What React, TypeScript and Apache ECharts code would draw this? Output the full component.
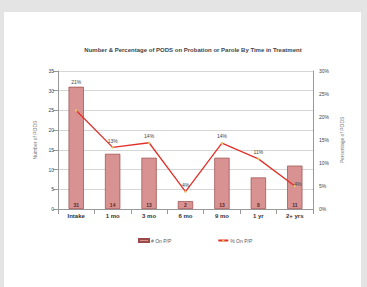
import React, { useEffect, useRef } from "react";
import * as echarts from "echarts";

const categories = ["Intake", "1 mo", "3 mo", "6 mo", "9 mo", "1 yr", "2+ yrs"];
const counts = [31, 14, 13, 2, 13, 8, 11];
const percents = [21.4, 13.4, 14.4, 3.8, 14.3, 10.9, 5.0];
const percentLabels = ["21%", "13%", "14%", "4%", "14%", "11%", "4%"];

export default function App() {
  const ref = useRef<HTMLDivElement>(null);
  useEffect(() => {
    if (!ref.current) return;
    const chart = echarts.init(ref.current, undefined, { renderer: "svg" });
    const lineData = percents.map((v, i) => {
      if (i === 0) return { value: v, label: { offset: [0, -22] } };
      if (i === percents.length - 1) return { value: v, label: { position: "inside", offset: [3, -2] } };
      return v;
    });
    chart.setOption({
      animation: false,
      backgroundColor: "#ffffff",
      textStyle: { fontFamily: "Liberation Sans, Arial, sans-serif" },
      title: {
        text: "Number & Percentage of PODS on Probation or Parole By Time in Treatment",
        left: 184,
        textAlign: "center",
        top: 30,
        textStyle: { fontSize: 6, fontWeight: "bold", color: "#444" },
      },
      legend: {
        top: 221,
        left: 129,
        itemGap: 46,
        itemWidth: 10,
        itemHeight: 3,
        textStyle: { fontSize: 5, color: "#555", padding: [0, 0, 0, -3] },
        data: [
          { name: "# On P/P", icon: "rect" },
          { name: "% On P/P" },
        ],
      },
      grid: { left: 54, right: 48, top: 59, bottom: 78, containLabel: false },
      xAxis: {
        type: "category",
        data: categories,
        axisLine: { lineStyle: { color: "#999" } },
        axisTick: { show: true, lineStyle: { color: "#999" } },
        axisLabel: { fontSize: 6, fontWeight: "bold", color: "#333", margin: 4 },
      },
      yAxis: [
        {
          type: "value",
          min: 0,
          max: 35,
          interval: 5,
          name: "Number of PODS",
          nameLocation: "middle",
          nameGap: 18,
          nameTextStyle: { fontSize: 5, color: "#777" },
          axisLine: { show: true, lineStyle: { color: "#999" } },
          axisTick: { show: true, lineStyle: { color: "#999" } },
          axisLabel: { fontSize: 5, color: "#444", margin: 4 },
          splitLine: { lineStyle: { color: "#bbb", width: 0.6 } },
        },
        {
          type: "value",
          min: 0,
          max: 30,
          interval: 5,
          name: "Percentage of PODS",
          nameLocation: "middle",
          nameGap: 20,
          nameRotate: 90,
          nameTextStyle: { fontSize: 5, color: "#777" },
          axisLine: { show: true, lineStyle: { color: "#999" } },
          axisTick: { show: false },
          axisLabel: { fontSize: 5, color: "#444", margin: 6, formatter: "{value}%" },
          splitLine: { show: false },
        },
      ],
      series: [
        {
          name: "# On P/P",
          type: "bar",
          data: counts,
          barWidth: "42%",
          itemStyle: { color: "#d89292", borderColor: "#9a4a4a", borderWidth: 0.7 },
          label: {
            show: true,
            position: "insideBottom",
            distance: 2,
            fontSize: 5,
            fontWeight: "bold",
            color: "#5a2a2a",
          },
        },
        {
          name: "% On P/P",
          type: "line",
          yAxisIndex: 1,
          data: lineData,
          symbol: "circle",
          symbolSize: 2.5,
          lineStyle: { color: "#e2302a", width: 1.3 },
          itemStyle: { color: "#e8c060" },
          label: {
            show: true,
            position: "top",
            distance: 3,
            fontSize: 5,
            color: "#444",
            formatter: (p: any) => percentLabels[p.dataIndex],
          },
        },
      ],
    });
    return () => chart.dispose();
  }, []);
  return (
    <div style={{ position: "fixed", left: 0, top: 0, width: 367, height: 287, background: "#e4e4e4" }}>
      <div ref={ref} style={{ position: "absolute", left: 4, top: 12, width: 357, height: 275 }} />
    </div>
  );
}
